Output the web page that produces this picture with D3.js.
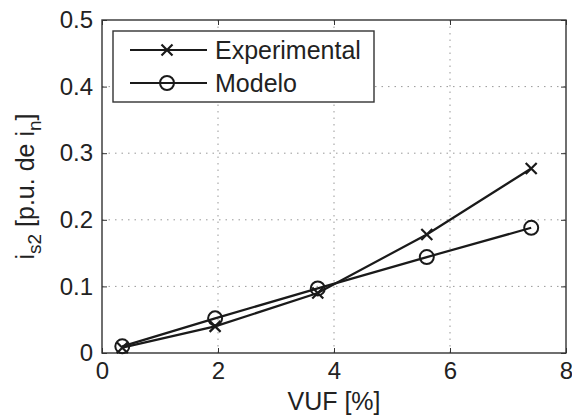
<!DOCTYPE html>
<meta charset="utf-8">
<script src="https://cdn.jsdelivr.net/npm/d3@7"></script>
<style>
body{margin:0;background:#fff;}
text{font-family:"Liberation Sans",Arial,sans-serif;fill:#222;}
</style>
<div id="vis"></div>
<script>
const vuf = [0.35, 1.95, 3.72, 5.6, 7.4]
const experimental = [0.008, 0.04, 0.09, 0.178, 0.277]
const modelo = [0.01, 0.052, 0.097, 0.144, 0.188]
const xTicks = [0, 2, 4, 6, 8]
const yTicks = [0, 0.1, 0.2, 0.3, 0.4, 0.5]

const margin = {top: 20, right: 6, bottom: 64, left: 102}
const W = 572, H = 417
const width = W - margin.left - margin.right
const height = H - margin.top - margin.bottom

const x = d3.scaleLinear().domain([0, 8]).range([0, width])
const y = d3.scaleLinear().domain([0, 0.5]).range([height, 0])

const svg = d3.select("#vis").append("svg").attr("width", W).attr("height", H)
const g = svg.append("g").attr("transform", `translate(${margin.left},${margin.top})`)

// grid
g.selectAll(".gx").data(xTicks.slice(1, -1)).enter().append("line")
  .attr("x1", d => x(d)).attr("x2", d => x(d)).attr("y1", 0).attr("y2", height)
  .attr("stroke", "#999").attr("stroke-dasharray", "1.5,5")
g.selectAll(".gy").data(yTicks.slice(1, -1)).enter().append("line")
  .attr("y1", d => y(d)).attr("y2", d => y(d)).attr("x1", 0).attr("x2", width)
  .attr("stroke", "#999").attr("stroke-dasharray", "1.5,5")

// axes, ticks inside
const axStyle = a => {
  a.select(".domain").remove()
  a.selectAll("line").attr("stroke", "#333")
  a.selectAll("text").style("font-size", "24px").attr("fill", "#222")
}
g.append("g").attr("transform", `translate(0,${height})`)
  .call(d3.axisBottom(x).tickValues(xTicks).tickSize(-5).tickPadding(9).tickFormat(d3.format("d")))
  .call(axStyle)
g.append("g")
  .call(d3.axisLeft(y).tickValues(yTicks).tickSize(-5).tickPadding(9).tickFormat(d => d === 0 ? "0" : d3.format(".1f")(d)))
  .call(axStyle)
g.append("g").call(d3.axisTop(x).tickValues(xTicks).tickSize(-5).tickFormat(""))
  .call(axStyle)
g.append("g").attr("transform", `translate(${width},0)`)
  .call(d3.axisRight(y).tickValues(yTicks).tickSize(-5).tickFormat(""))
  .call(axStyle)

g.append("rect").attr("width", width).attr("height", height)
  .attr("fill", "none").attr("stroke", "#333").attr("stroke-width", 1.4)

const line = d3.line().x(d => x(d[0])).y(d => y(d[1]))
const expPts = vuf.map((v, i) => [v, experimental[i]])
const modPts = vuf.map((v, i) => [v, modelo[i]])

function cross(sel, cx, cy) {
  const s = 5.5
  sel.append("path").attr("d", `M${cx-s},${cy-s}L${cx+s},${cy+s}M${cx-s},${cy+s}L${cx+s},${cy-s}`)
    .attr("stroke", "#1a1a1a").attr("stroke-width", 2.2).attr("fill", "none")
}
function circ(sel, cx, cy) {
  sel.append("circle").attr("cx", cx).attr("cy", cy).attr("r", 7)
    .attr("stroke", "#1a1a1a").attr("stroke-width", 2).attr("fill", "none")
}

g.append("path").datum(expPts).attr("d", line).attr("fill", "none").attr("stroke", "#1a1a1a").attr("stroke-width", 2.2)
g.append("path").datum(modPts).attr("d", line).attr("fill", "none").attr("stroke", "#1a1a1a").attr("stroke-width", 2.2)
expPts.forEach(p => cross(g, x(p[0]), y(p[1])))
modPts.forEach(p => circ(g, x(p[0]), y(p[1])))

// legend
const lg = svg.append("g")
lg.append("rect").attr("x", 113).attr("y", 31).attr("width", 261).attr("height", 71)
  .attr("fill", "#fff").attr("stroke", "#333").attr("stroke-width", 1.4)
const rows = [{name: "Experimental", y: 50, mark: cross}, {name: "Modelo", y: 83, mark: circ}]
rows.forEach(r => {
  lg.append("line").attr("x1", 130).attr("x2", 207).attr("y1", r.y).attr("y2", r.y)
    .attr("stroke", "#1a1a1a").attr("stroke-width", 2)
  r.mark(lg, 167, r.y)
  lg.append("text").attr("x", 215).attr("y", r.y + 8.5).style("font-size", "25px").text(r.name)
})

// axis labels
svg.append("text").attr("x", margin.left + width / 2).attr("y", 410).attr("text-anchor", "middle")
  .style("font-size", "25px").text("VUF [%]")
const yl = svg.append("text").attr("transform", `translate(34,${margin.top + height / 2}) rotate(-90)`)
  .attr("text-anchor", "middle").style("font-size", "25px")
yl.append("tspan").text("i")
yl.append("tspan").attr("dy", 7).style("font-size", "19px").text("s2")
yl.append("tspan").attr("dy", -7).text(" [p.u. de i")
yl.append("tspan").attr("dy", 7).style("font-size", "19px").text("n")
yl.append("tspan").attr("dy", -7).text("]")
</script>
